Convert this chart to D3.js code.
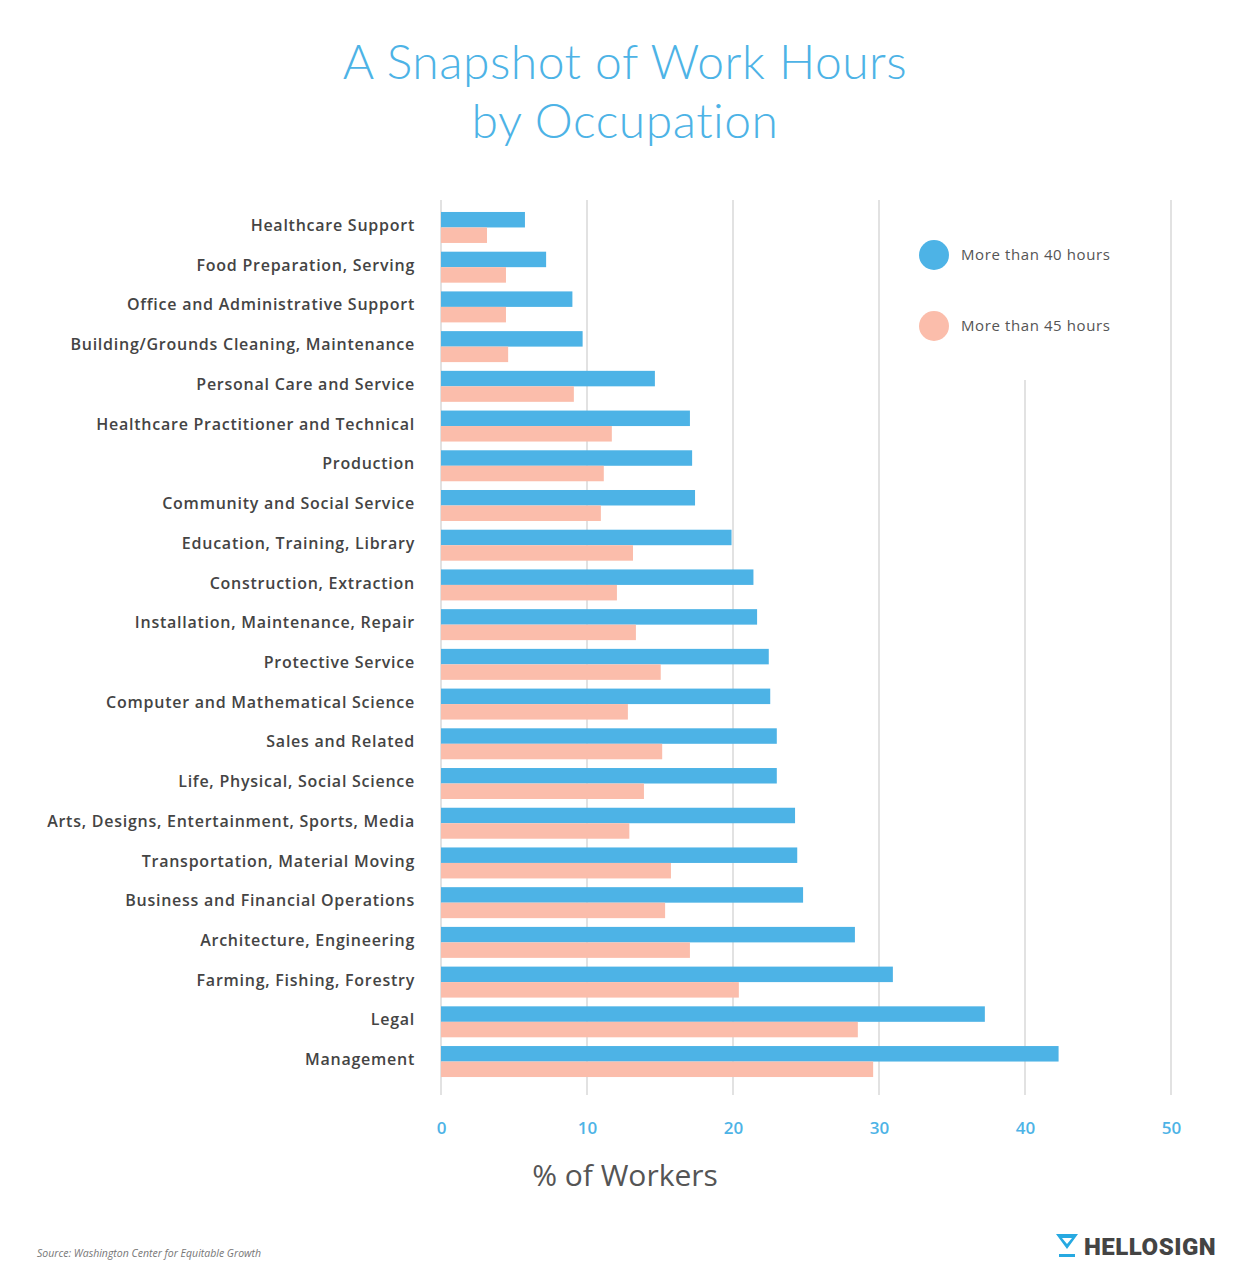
<!DOCTYPE html>
<html><head><meta charset="utf-8">
<script src="https://cdn.jsdelivr.net/npm/d3@7"></script>
<style>body{margin:0;background:#fff}</style>
</head><body>
<script>
const categories = ["Healthcare Support","Food Preparation, Serving","Office and Administrative Support","Building/Grounds Cleaning, Maintenance","Personal Care and Service","Healthcare Practitioner and Technical","Production","Community and Social Service","Education, Training, Library","Construction, Extraction","Installation, Maintenance, Repair","Protective Service","Computer and Mathematical Science","Sales and Related","Life, Physical, Social Science","Arts, Designs, Entertainment, Sports, Media","Transportation, Material Moving","Business and Financial Operations","Architecture, Engineering","Farming, Fishing, Forestry","Legal","Management"];
const over40 = [5.75,7.2,9.0,9.7,14.65,17.05,17.2,17.4,19.9,21.4,21.65,22.45,22.55,23.0,23.0,24.25,24.4,24.8,28.35,30.95,37.25,42.3];
const over45 = [3.15,4.45,4.45,4.6,9.1,11.7,11.15,10.95,13.15,12.05,13.35,15.05,12.8,15.15,13.9,12.9,15.75,15.35,17.05,20.4,28.55,29.6];
const ticks = [0,10,20,30,40,50];
const seriesNames = ["More than 40 hours","More than 45 hours"];
const colors = ["#4db3e6","#fbbdab"];

const W=1250,H=1283;
const svg=d3.select("body").append("svg").attr("width",W).attr("height",H).style("font-family","'Open Sans', sans-serif");
const x=d3.scaleLinear().domain([0,50]).range([441,1171]);
const y=d3.scaleBand().domain(categories).range([208,1081]).paddingInner(0.22).paddingOuter(0.1);

svg.append("text").attr("x",625).attr("y",79).attr("text-anchor","middle").attr("fill","#4db3e6").attr("font-size",48).attr("font-weight",300).attr("font-family","Lato, sans-serif").attr("letter-spacing","0.5px").text("A Snapshot of Work Hours");
svg.append("text").attr("x",625).attr("y",138).attr("text-anchor","middle").attr("fill","#4db3e6").attr("font-size",48).attr("font-weight",300).attr("font-family","Lato, sans-serif").attr("letter-spacing","0.5px").text("by Occupation");

ticks.forEach(t=>{
  svg.append("line").attr("x1",x(t)).attr("x2",x(t)).attr("y1",t===40?380:200).attr("y2",1095).attr("stroke","#d8d8d8").attr("stroke-width",1.5);
});

const bh=y.bandwidth()/2;
const g=svg.append("g");
categories.forEach((c,i)=>{
  g.append("rect").attr("x",x(0)).attr("y",y(c)).attr("width",x(over40[i])-x(0)).attr("height",bh).attr("fill",colors[0]);
  g.append("rect").attr("x",x(0)).attr("y",y(c)+bh).attr("width",x(over45[i])-x(0)).attr("height",bh).attr("fill",colors[1]);
  svg.append("text").attr("x",415).attr("y",y(c)+bh-2).attr("dy","0.35em").attr("text-anchor","end").attr("fill","#444").attr("font-size",16).attr("font-weight",600).attr("letter-spacing","0.75px").text(c);
});

const ax=svg.append("g").attr("transform","translate(0,1128)").call(d3.axisBottom(x).tickValues(ticks).tickSize(0));
ax.select(".domain").remove();
ax.selectAll("text").attr("fill","#4db3e6").attr("font-size",17).attr("font-family","'Open Sans', sans-serif").attr("font-weight",600).attr("dy","0.35em").attr("y",0);

svg.append("text").attr("x",625).attr("y",1186).attr("text-anchor","middle").attr("fill","#555").attr("font-size",30).text("% of Workers");

seriesNames.forEach((s,i)=>{
  const ly=255+i*71;
  svg.append("circle").attr("cx",934).attr("cy",ly).attr("r",15).attr("fill",colors[i]);
  svg.append("text").attr("x",961).attr("y",ly).attr("dy","0.35em").attr("fill","#555").attr("font-size",15).attr("letter-spacing","0.6px").text(s);
});

svg.append("text").attr("x",37).attr("y",1257).attr("fill","#777").attr("font-size",10.5).attr("font-style","italic").text("Source: Washington Center for Equitable Growth");

const lg=svg.append("g").attr("transform","translate(1056,1234)");
lg.append("path").attr("d","M0,0 H22 L11,15 Z M6,4 L11,10 L16,4 Z").attr("fill","#27a9e1").attr("fill-rule","evenodd");
lg.append("rect").attr("x",3).attr("y",20).attr("width",16).attr("height",3).attr("fill","#27a9e1");
svg.append("text").attr("x",1084).attr("y",1255).attr("fill","#444").attr("font-size",24).attr("font-weight",900).attr("font-family","Roboto, sans-serif").attr("letter-spacing","0.5px").text("HELLOSIGN");
</script>
</body></html>
